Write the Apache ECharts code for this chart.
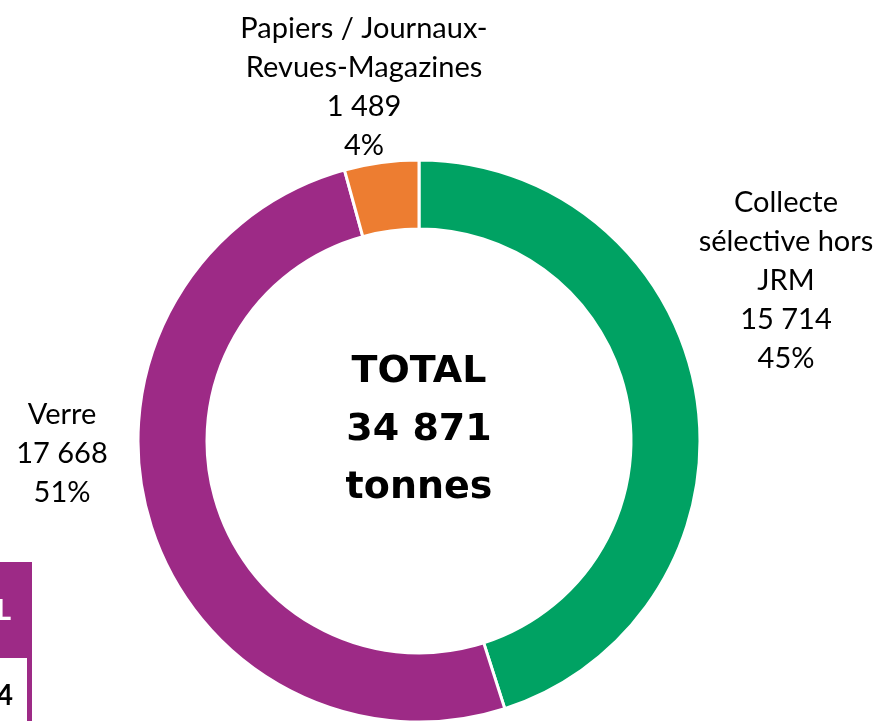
<!DOCTYPE html>
<html><head><meta charset="utf-8">
<script src="https://cdn.jsdelivr.net/npm/echarts@6/dist/echarts.min.js"></script>
<style>html,body{margin:0;padding:0;background:#fff}#c{width:881px;height:721px}</style>
</head><body><div id="c"></div>
<script>
const categories = ['Collecte\nsélective hors\nJRM', 'Verre', 'Papiers / Journaux-\nRevues-Magazines'];
const values = [15714, 17668, 1489];
const percents = ['45%', '51%', '4%'];
const colors = ['#00A263', '#9D2A86', '#ED7D31'];
const labelPos = [[786, 281], [62, 454], [364, 87]];

function fmt(n){ return String(n).replace(/\B(?=(\d{3})+(?!\d))/g, ' '); }
const total = values.reduce((a,b)=>a+b,0);

const chart = echarts.init(document.getElementById('c'));
chart.setOption({
  animation: false,
  series: [{
    type: 'pie',
    center: [419, 441],
    radius: [212, 281],
    startAngle: 90,
    clockwise: true,
    itemStyle: { borderColor: '#fff', borderWidth: 3 },
    label: {
      show: true,
      position: 'outside',
      formatter: p => p.name + '\n' + fmt(p.value) + '\n' + percents[p.dataIndex],
      fontFamily: 'Lato',
      fontSize: 29,
      lineHeight: 39,
      color: '#000',
      align: 'center',
      overflow: 'none',
      width: 300
    },
    labelLine: { show: false },
    labelLayout: p => ({ x: labelPos[p.dataIndex][0], y: labelPos[p.dataIndex][1], align: 'center', verticalAlign: 'middle' }),
    data: categories.map((c,i)=>({ name: c, value: values[i], itemStyle: { color: colors[i] } }))
  }],
  graphic: [
    { type: 'text', x: 419, y: 430, style: { text: 'TOTAL\n' + fmt(total) + '\ntonnes', fontFamily: 'DejaVu Sans', fontWeight: 'bold', fontSize: 38, lineHeight: 58, align: 'center', verticalAlign: 'middle', fill: '#000' } },
    { type: 'rect', shape: { x: 0, y: 562, width: 32, height: 96 }, style: { fill: '#9D2A86' } },
    { type: 'rect', shape: { x: 27, y: 658, width: 5, height: 63 }, style: { fill: '#9D2A86' } },
    { type: 'text', x: 11, y: 611, style: { text: 'L', fontFamily: 'Lato', fontWeight: 'bold', fontSize: 28, align: 'right', verticalAlign: 'middle', fill: '#fff' } },
    { type: 'text', x: 13, y: 696, style: { text: '4', fontFamily: 'Lato', fontWeight: 'bold', fontSize: 28, align: 'right', verticalAlign: 'middle', fill: '#000' } }
  ]
});
</script></body></html>
